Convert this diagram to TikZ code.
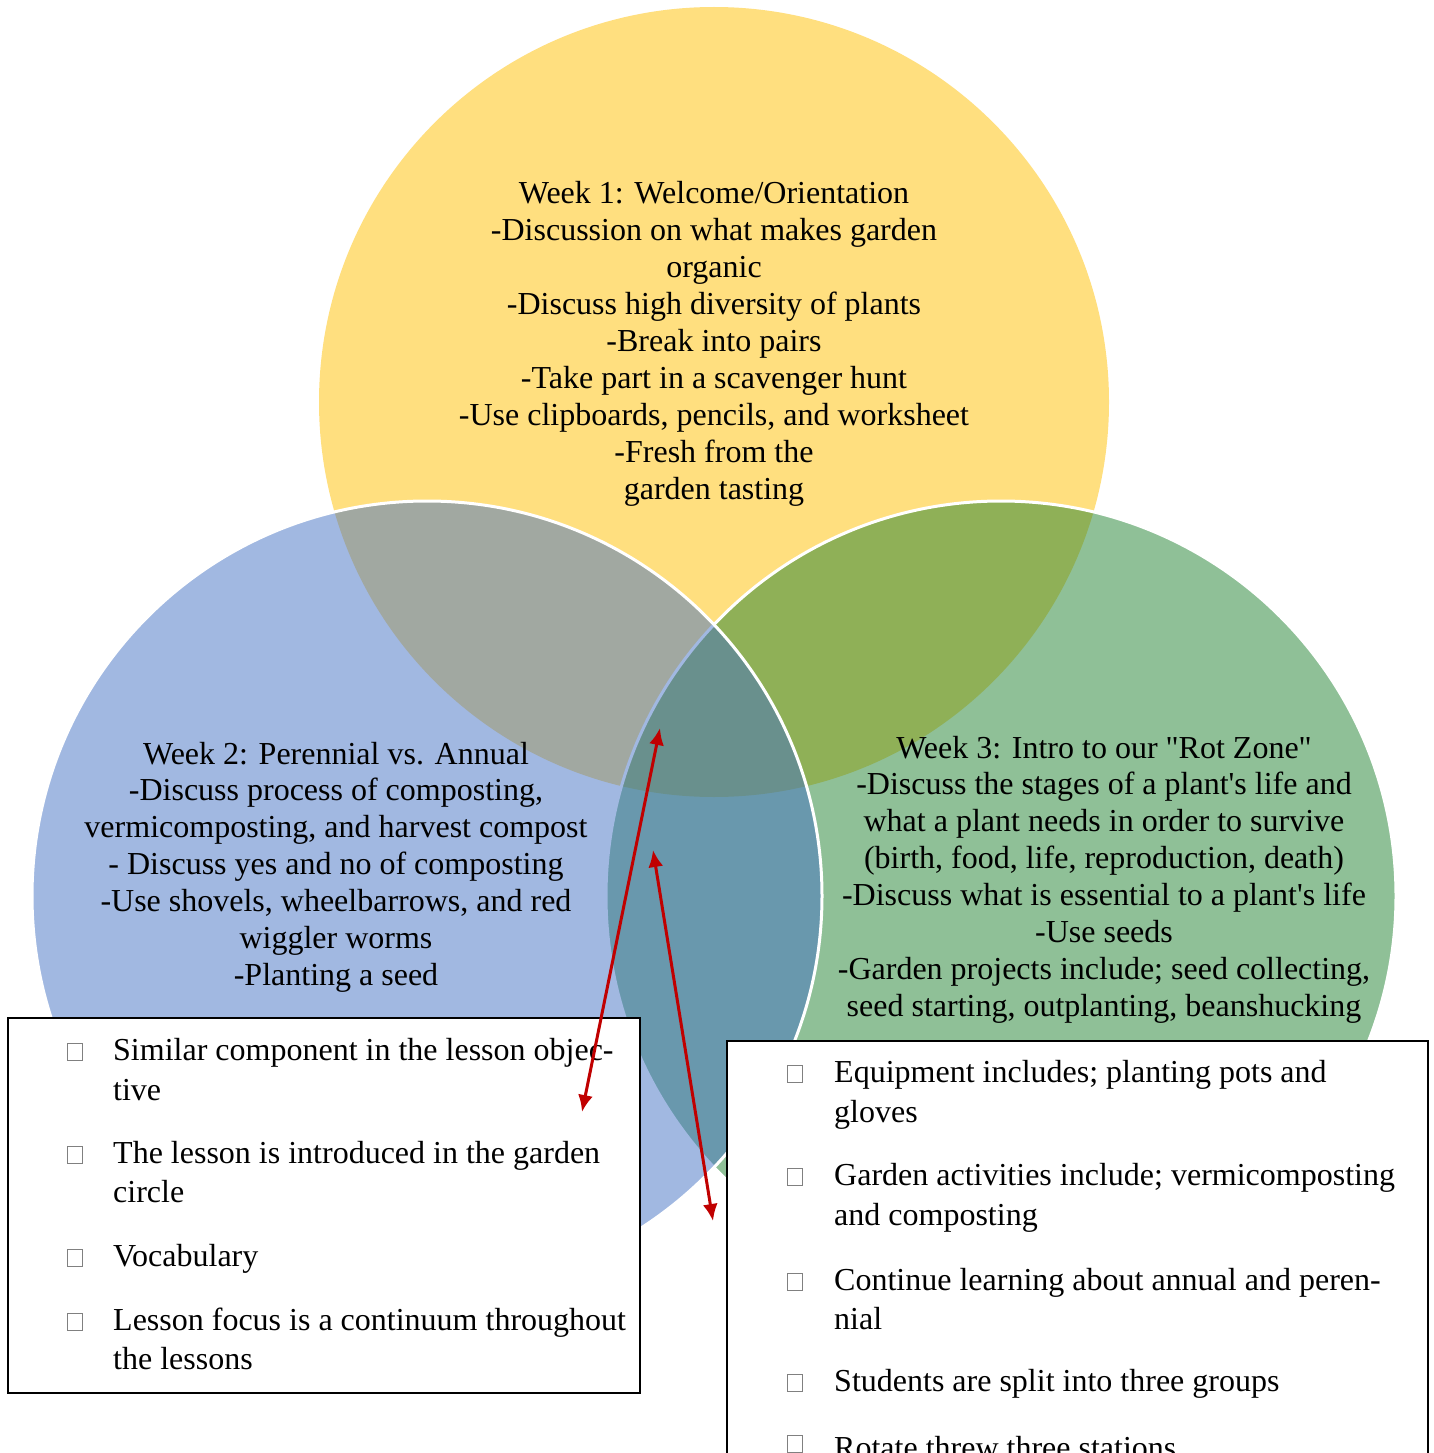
\documentclass[tikz,border=0pt]{standalone}
\usepackage{fontspec}
\setmainfont{Liberation Serif}
\usetikzlibrary{arrows.meta}
\definecolor{cyel}{RGB}{255,192,0}
\definecolor{cblu}{RGB}{68,114,196}
\definecolor{cgrn}{RGB}{32,130,48}
\definecolor{cred}{RGB}{192,0,0}
\begin{document}
\begin{tikzpicture}[x=1pt,y=-1pt,
  txt/.style={font=\fontsize{32}{37}\selectfont, inner sep=0pt, anchor=base, text=black},
  ltxt/.style={txt, anchor=base west},
  chk/.style={draw=gray, line width=1pt, inner sep=0pt, minimum width=15pt, minimum height=17pt, anchor=south west},
  boxst/.style={draw=black, line width=2pt, fill=white, inner sep=0pt, anchor=north west},
  venn/.style={fill opacity=0.5},
  arr/.style={draw=cred, line width=3pt, {Latex[length=17pt,width=15pt]}-{Latex[length=17pt,width=15pt]}}]
\useasboundingbox (0,0) rectangle (1433,1453);
\clip (0,0) rectangle (1433,1453);
\fill[white] (0,0) rectangle (1433,1453);
% circles
\path[venn, fill=cyel] (714,402) circle[radius=395pt];
\path[venn, fill=cgrn, draw=white, line width=3pt] (1001,896) circle[radius=395pt];
\path[venn, fill=cblu, draw=white, line width=3pt] (427,896) circle[radius=395pt];
% circle texts
\foreach \t [count=\i] in {{Week 1: Welcome/Orientation},{-Discussion on what makes garden},{organic},{-Discuss high diversity of plants},{-Break into pairs},{-Take part in a scavenger hunt},{-Use clipboards, pencils, and worksheet},{-Fresh from the},{garden tasting}}
  \node[txt] (y\i) at (714,{203+37*(\i-1)}) {\t};
\foreach \t [count=\i] in {{Week 2: Perennial vs. Annual},{-Discuss process of composting,},{vermicomposting, and harvest compost},{- Discuss yes and no of composting},{-Use shovels, wheelbarrows, and red},{wiggler worms},{-Planting a seed}}
  \node[txt] (b\i) at (336,{764+36.9*(\i-1)}) {\t};
\foreach \t [count=\i] in {{Week 3: Intro to our \textquotedbl Rot Zone\textquotedbl},{-Discuss the stages of a plant\textquotesingle s life and},{what a plant needs in order to survive},{(birth, food, life, reproduction, death)},{-Discuss what is essential to a plant\textquotesingle s life},{-Use seeds},{-Garden projects include; seed collecting,},{seed starting, outplanting, beanshucking}}
  \node[txt] (g\i) at (1104,{758+36.9*(\i-1)}) {\t};
% boxes
\node[boxst, minimum width=632pt, minimum height=375pt] (lbox) at (7,1017) {};
\node[boxst, minimum width=701pt, minimum height=480pt] (rbox) at (726,1040) {};
% left box items
\node[chk] (lc1) at (67,1061) {};
\node[chk] (lc2) at (67,1164) {};
\node[chk] (lc3) at (67,1267) {};
\node[chk] (lc4) at (67,1331) {};
\node[ltxt] (l1) at (113,1060) {Similar component in the lesson objec-};
\node[ltxt] (l2) at (113,1100) {tive};
\node[ltxt] (l3) at (113,1163) {The lesson is introduced in the garden};
\node[ltxt] (l4) at (113,1202) {circle};
\node[ltxt] (l5) at (113,1266) {Vocabulary};
\node[ltxt] (l6) at (113,1330) {Lesson focus is a continuum throughout};
\node[ltxt] (l7) at (113,1369) {the lessons};
% right box items
\node[chk] (rc1) at (787,1083) {};
\node[chk] (rc2) at (787,1186) {};
\node[chk] (rc3) at (787,1291) {};
\node[chk] (rc4) at (787,1392) {};
\node[chk] (rc5) at (787,1453) {};
\node[ltxt] (r1) at (834,1082) {Equipment includes; planting pots and};
\node[ltxt] (r2) at (834,1122) {gloves};
\node[ltxt] (r3) at (834,1185) {Garden activities include; vermicomposting};
\node[ltxt] (r4) at (834,1225) {and composting};
\node[ltxt] (r5) at (834,1290) {Continue learning about annual and peren-};
\node[ltxt] (r6) at (834,1329) {nial};
\node[ltxt] (r7) at (834,1391) {Students are split into three groups};
\node[ltxt] (r8) at (834,1458) {Rotate threw three stations};
% arrows
\coordinate (a1) at (660,728);
\coordinate (a2) at (582,1112);
\coordinate (b1) at (653,850);
\coordinate (b2) at (713,1221);
\draw[arr] (a1) -- (a2);
\draw[arr] (b1) -- (b2);
\end{tikzpicture}
\end{document}
